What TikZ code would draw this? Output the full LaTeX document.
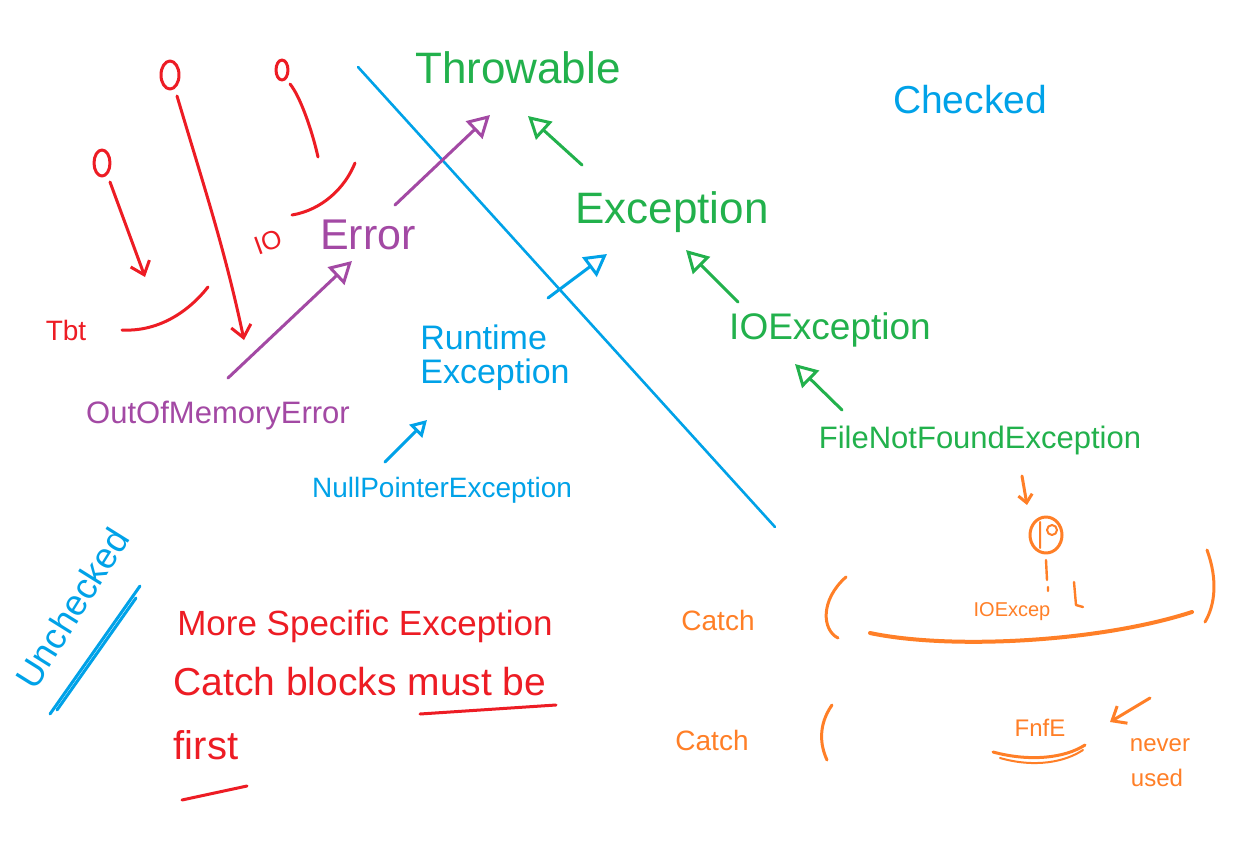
\documentclass[tikz,border=0pt]{standalone}
\usepackage{fontspec}
\setmainfont{Liberation Sans}
\usetikzlibrary{arrows.meta}
\definecolor{pgreen}{RGB}{34,177,76}
\definecolor{pblue}{RGB}{0,162,232}
\definecolor{pred}{RGB}{237,28,36}
\definecolor{ppurple}{RGB}{163,73,164}
\definecolor{porange}{RGB}{255,127,39}
\tikzset{
  pen/.style={line width=3pt, line cap=round, line join=round},
  lbl/.style={inner sep=0pt, anchor=center},
  tri/.style={pen, -{Triangle[open, length=22pt, width=24pt, line width=3pt]}},
  barb/.style={pen, -{Straight Barb[length=12pt, width=20pt, line width=3pt]}},
  fs/.style={font=\fontsize{#1}{#1}\selectfont}
}
\begin{document}
\begin{tikzpicture}[x=1pt,y=-1pt]
\useasboundingbox (0,0) rectangle (1254,841);
\fill[white] (0,0) rectangle (1254,841);

% dividing line
\draw[pen, pblue, line width=2.6pt] (358,67) -- (775,527);

% green hierarchy (checked side)
\node[lbl, pgreen, fs=44] (thr) at (518,68) {Throwable};
\node[lbl, pblue, fs=39] (chk) at (970,100) {Checked};
\node[lbl, pgreen, fs=44] (exc) at (672,212) {Exception};
\node[lbl, pgreen, fs=37] (ioe) at (830,330) {IOException};
\node[lbl, pgreen, fs=31] (fnf) at (980,440) {FileNotFoundException};
\coordinate (a1t) at (582,165); \coordinate (a1h) at (528,116);
\coordinate (a2t) at (738,302); \coordinate (a2h) at (686,250);
\coordinate (a3t) at (842,410); \coordinate (a3h) at (795,364);
\draw[tri, pgreen] (a1t) -- (a1h);
\draw[tri, pgreen] (a2t) -- (a2h);
\draw[tri, pgreen] (a3t) -- (a3h);

% purple Error side
\node[lbl, ppurple, fs=43] (err) at (368,235) {Error};
\node[lbl, ppurple, fs=31] (oom) at (218,415) {OutOfMemoryError};
\coordinate (p1t) at (395,205); \coordinate (p1h) at (490,115);
\coordinate (p2t) at (228,378); \coordinate (p2h) at (352,261);
\draw[tri, ppurple] (p1t) -- (p1h);
\draw[tri, ppurple] (p2t) -- (p2h);

% blue unchecked exceptions
\node[lbl, pblue, fs=34, align=left] (rte) at (495,358) {Runtime\\Exception};
\node[lbl, pblue, fs=28] (npe) at (442,490) {NullPointerException};
\coordinate (b1t) at (548,298); \coordinate (b1h) at (607,254);
\coordinate (b2t) at (385,462); \coordinate (b2h) at (427,420);
\draw[tri, pblue] (b1t) -- (b1h);
\draw[tri, pblue, -{Triangle[open, length=16pt, width=18pt, line width=3pt]}] (b2t) -- (b2h);

\node[lbl, pblue, fs=36, rotate=58] (unc) at (72,608) {Unchecked};
\coordinate (u1a) at (50,714); \coordinate (u1b) at (140,586);
\coordinate (u2a) at (57,710); \coordinate (u2b) at (136,598);
\draw[pen, pblue] (u1a) -- (u1b);
\draw[pen, pblue] (u2a) -- (u2b);

% red sketch: circles and arrows
\draw[pen, pred] (102,163) ellipse [x radius=8, y radius=13];
\draw[pen, pred] (170,75) ellipse [x radius=9, y radius=14];
\draw[pen, pred] (282,70) ellipse [x radius=6, y radius=10];
\coordinate (c1) at (110,182); \coordinate (c1h) at (145,277);
\coordinate (c2) at (177,96); \coordinate (c2h) at (244,340);
\coordinate (c3) at (290,84); \coordinate (c3e) at (318,157);
\draw[barb, pred] (c1) -- (c1h);
\draw[barb, pred] (c2) .. controls (205,190) and (225,250) .. (c2h);
\draw[pen, pred] (c3) .. controls (300,96) and (312,130) .. (c3e);
\coordinate (k1a) at (122,330); \coordinate (k1b) at (208,287);
\coordinate (k2a) at (292,215); \coordinate (k2b) at (355,163);
\draw[pen, pred] (k1a) .. controls (160,332) and (190,310) .. (k1b);
\draw[pen, pred] (k2a) .. controls (322,210) and (345,188) .. (k2b);
\node[lbl, pred, fs=26, rotate=20] (io) at (268,242) {IO};
\node[lbl, pred, fs=28] (tbt) at (66,330) {Tbt};

% red rule text
\node[lbl, pred, fs=35] (r1) at (365,626) {More Specific Exception};
\node[lbl, pred, fs=39] (r2) at (360,682) {Catch blocks must be};
\node[lbl, pred, fs=40] (r3) at (206,745) {first};
\coordinate (ul1a) at (420,714); \coordinate (ul1b) at (556,705);
\coordinate (ul2a) at (182,800); \coordinate (ul2b) at (247,786);
\draw[pen, pred] (ul1a) -- (ul1b);
\draw[pen, pred] (ul2a) -- (ul2b);

% orange catch blocks
\node[lbl, porange, fs=28] (cat1) at (718,620) {Catch};
\node[lbl, porange, fs=28] (cat2) at (712,740) {Catch};
\draw[pen, porange] (846,577) .. controls (820,600) and (822,630) .. (838,638);
\draw[pen, porange] (1207,550) .. controls (1218,580) and (1215,605) .. (1205,622);
\draw[pen, porange] (832,705) .. controls (818,725) and (820,745) .. (827,760);
\draw[pen, porange, line width=4pt] (870,633) .. controls (950,650) and (1100,642) .. (1192,612);
\node[lbl, porange, fs=20] (ioc) at (1012,612) {IOExcep};
\coordinate (oa) at (1022,476); \coordinate (oh) at (1027,505);
\draw[barb, porange, -{Straight Barb[length=8pt, width=14pt, line width=3pt]}] (oa) -- (oh);
\draw[pen, porange] (1046,535) ellipse [x radius=16, y radius=18];
\draw[pen, porange, line width=2pt] (1040,522) -- (1040,548) (1052,530) circle [radius=5];
\draw[pen, porange, line width=2.4pt] (1046,560) -- (1047,580) (1048,587) -- (1048,591);
\draw[pen, porange, line width=2.4pt] (1074,582) -- (1076,605) -- (1083,607);
\node[lbl, porange, fs=24] (fnfe) at (1040,728) {FnfE};
\draw[pen, porange] (993,752) .. controls (1030,762) and (1065,758) .. (1085,745);
\draw[pen, porange, line width=2pt] (1000,758) .. controls (1035,768) and (1065,762) .. (1083,750);
\coordinate (nt) at (1150,698); \coordinate (nh) at (1110,722);
\draw[barb, porange] (nt) -- (nh);
\node[lbl, porange, fs=24] (nev) at (1160,745) {never};
\node[lbl, porange, fs=24] (usd) at (1157,778) {used};
\end{tikzpicture}
\end{document}
